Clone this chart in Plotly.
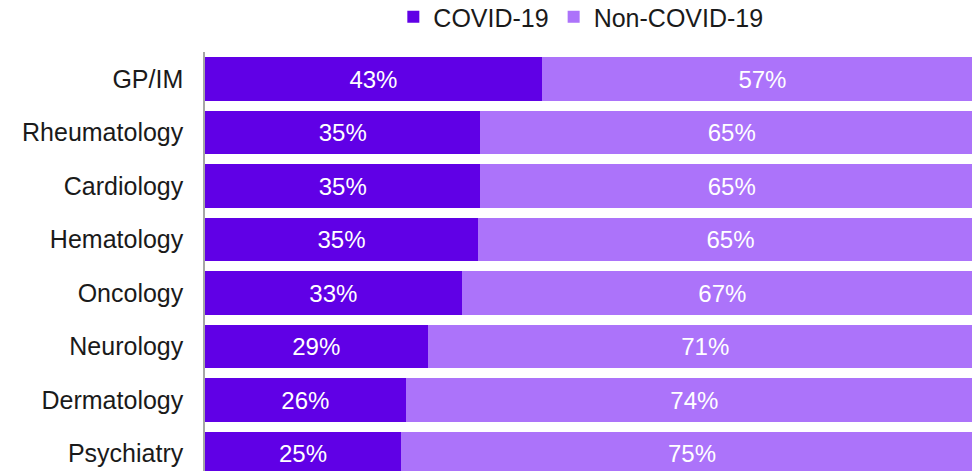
import plotly.graph_objects as go

specialties = ["GP/IM", "Rheumatology", "Cardiology", "Hematology", "Oncology",
               "Neurology", "Dermatology", "Psychiatry"]
covid = [43.3, 35.4, 35.4, 35.1, 33.0, 28.6, 25.8, 25.2]
non_covid = [round(100 - v, 1) for v in covid]

covid_color = "#6000E6"
non_color = "#AC73FA"
FONT = "Liberation Sans, Arial"
FS = 25

fig = go.Figure()
fig.add_trace(go.Bar(
    y=specialties, x=covid, orientation="h", name="COVID-19",
    marker=dict(color=covid_color, line=dict(width=0)),
    text=[f"{round(v)}%" for v in covid], textposition="inside",
    insidetextanchor="middle",
    textfont=dict(color="white", size=FS - 1, family=FONT),
))
fig.add_trace(go.Bar(
    y=specialties, x=non_covid, orientation="h", name="Non-COVID-19",
    marker=dict(color=non_color, line=dict(width=0)),
    text=[f"{round(v)}%" for v in non_covid], textposition="inside",
    insidetextanchor="middle",
    textfont=dict(color="white", size=FS - 1, family=FONT),
))

fig.update_layout(
    barmode="stack",
    bargap=0.18,
    width=972, height=471,
    margin=dict(l=205, r=0, t=52, b=0, autoexpand=False),
    paper_bgcolor="white", plot_bgcolor="white",
    font=dict(family=FONT, size=FS, color="#1a1a1a"),
    uniformtext=dict(mode="show", minsize=FS - 1),
    legend=dict(orientation="h", x=0.49, xanchor="center",
                y=1.0835, yanchor="middle", font=dict(size=FS, color="#1a1a1a"),
                traceorder="normal", itemwidth=30, tracegroupgap=0,
                bgcolor="rgba(0,0,0,0)"),
    showlegend=True,
)
fig.update_xaxes(range=[0, 100 * 767 / 778], showticklabels=False, showgrid=False,
                 zeroline=False, showline=False, fixedrange=True)
fig.update_yaxes(categoryorder="array", categoryarray=specialties,
                 range=[7.327, -0.505], showgrid=False, zeroline=False,
                 showline=True, linecolor="#A6A6A6", linewidth=1.5,
                 ticks="", ticklabelstandoff=15,
                 tickfont=dict(size=FS, color="#1a1a1a"))

fig.write_html("out.html", config={"displayModeBar": False},
               post_script="document.body.style.margin='0';document.body.style.overflow='hidden';")
